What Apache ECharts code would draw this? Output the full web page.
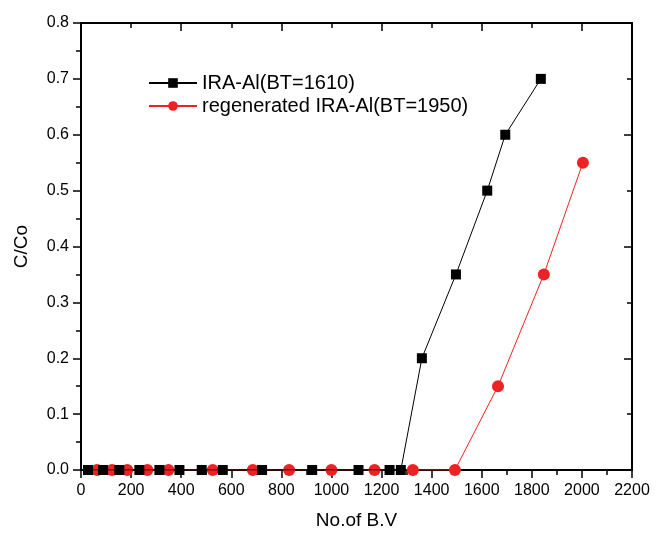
<!DOCTYPE html>
<html>
<head>
<meta charset="utf-8">
<script src="https://cdn.jsdelivr.net/npm/echarts@6/dist/echarts.min.js"></script>
<style>
  html, body { margin: 0; padding: 0; background: #fff; }
  #chart { width: 656px; height: 533px; }
</style>
</head>
<body>
<div id="chart"></div>
<script>
// 数据
const seriesNames = ['IRA-Al(BT=1610)', 'regenerated IRA-Al(BT=1950)']
const bvBlack = [28, 88, 153, 233, 313, 393, 482, 566, 723, 923, 1108, 1232, 1277, 1361, 1497, 1622, 1694, 1836]
const ccBlack = [0, 0, 0, 0, 0, 0, 0, 0, 0, 0, 0, 0, 0, 0.2, 0.35, 0.5, 0.6, 0.7]
const bvRed = [64, 124, 185, 265, 349, 526, 686, 831, 1000, 1172, 1325, 1493, 1665, 1848, 2004]
const ccRed = [0, 0, 0, 0, 0, 0, 0, 0, 0, 0, 0, 0, 0.15, 0.35, 0.55]

const font = 'Liberation Sans, Arial, sans-serif'
const axisLine = { show: true, onZero: false, lineStyle: { color: '#000', width: 2 } }
const tick = (inside) => ({ show: true, inside, length: 8, lineStyle: { color: '#000', width: 1.5 } })
const minor = { show: true, splitNumber: 2, length: 5, lineStyle: { color: '#000', width: 1.5 } }

const chart = echarts.init(document.getElementById('chart'))
chart.setOption({
  animation: false,
  grid: { left: 81, right: 24, top: 23, bottom: 63, outerBoundsMode: 'none' },
  legend: {
    orient: 'vertical',
    left: 143,
    top: 68,
    itemWidth: 48,
    itemHeight: 12,
    itemGap: 3,
    textStyle: { fontFamily: font, fontSize: 20, color: '#000' },
    data: seriesNames
  },
  xAxis: [
    {
      type: 'value', min: 0, max: 2200, interval: 200,
      name: 'No.of B.V', nameLocation: 'middle', nameGap: 41,
      nameTextStyle: { fontFamily: font, fontSize: 19, color: '#000' },
      axisLine,
      axisTick: tick(false),
      minorTick: minor,
      axisLabel: { fontFamily: font, fontSize: 16, color: '#000', margin: 13, formatter: v => String(v) },
      splitLine: { show: false }
    },
    {
      type: 'value', position: 'top', min: 0, max: 2200, interval: 400,
      axisLine,
      axisTick: tick(true),
      minorTick: minor,
      axisLabel: { show: false },
      splitLine: { show: false }
    }
  ],
  yAxis: [
    {
      type: 'value', min: 0, max: 0.8, interval: 0.1,
      name: 'C/Co', nameLocation: 'middle', nameGap: 50, nameRotate: 90,
      nameTextStyle: { fontFamily: font, fontSize: 19, color: '#000' },
      axisLine,
      axisTick: tick(false),
      minorTick: minor,
      axisLabel: { fontFamily: font, fontSize: 16, color: '#000', margin: 12, formatter: v => v.toFixed(1) },
      splitLine: { show: false }
    },
    {
      type: 'value', position: 'right', min: 0, max: 0.8, interval: 0.2,
      axisLine,
      axisTick: tick(true),
      minorTick: minor,
      axisLabel: { show: false },
      splitLine: { show: false }
    }
  ],
  series: [
    {
      name: seriesNames[1], type: 'line',
      data: bvRed.map((x, i) => [x, ccRed[i]]),
      symbol: 'circle', symbolSize: 12,
      itemStyle: { color: '#ee2222' },
      lineStyle: { color: '#ee2222', width: 1 },
      z: 2
    },
    {
      name: seriesNames[0], type: 'line',
      data: bvBlack.map((x, i) => [x, ccBlack[i]]),
      symbol: 'rect', symbolSize: 10,
      itemStyle: { color: '#000' },
      lineStyle: { color: '#000', width: 1 },
      z: 3
    }
  ]
})
</script>
</body>
</html>
